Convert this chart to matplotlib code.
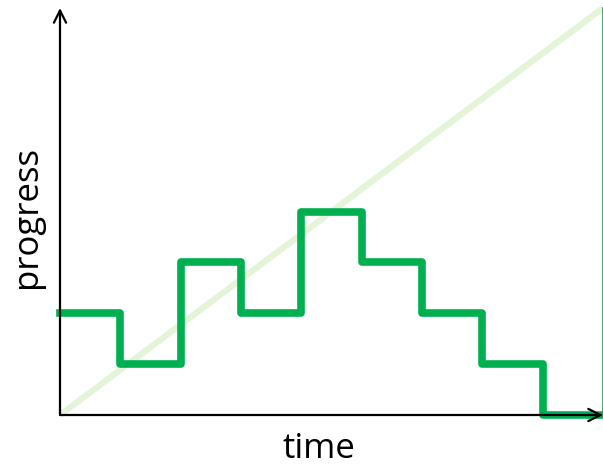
import numpy as np
import matplotlib.pyplot as plt

# step series: level held over each time slot
steps_x = [0, 1, 2, 3, 4, 5, 6, 7, 8, 9]
steps_y = [2, 1, 3, 2, 4, 3, 2, 1, 0]
# ideal progress line
ideal_x = [0, 9]
ideal_y = [0, 8]

plt.rcParams["font.family"] = ["Open Sans", "DejaVu Sans"]

fig = plt.figure(figsize=(6.03, 4.67), dpi=100)
ax = fig.add_axes([60 / 603, 52 / 467, 543 / 603, 407 / 467])
ax.set_xlim(0, 9)
ax.set_ylim(0, 8)
ax.axis("off")

ax.plot(ideal_x, ideal_y, color="#e3f4d9", linewidth=4.5, solid_capstyle="butt", zorder=1, clip_on=False)
ax.plot(steps_x, steps_y + [steps_y[-1]], drawstyle="steps-post", color="#00b050",
        linewidth=5.5, solid_joinstyle="round", zorder=2, clip_on=False)
ax.plot([9, 9], [0, 8], color="#00b050", linewidth=1.2, zorder=2, clip_on=False)

# axes with arrowheads
arrow = dict(arrowstyle="->", lw=1.6, color="black", mutation_scale=22, shrinkA=0, shrinkB=0)
ax.annotate("", xy=(0, 1), xytext=(0, 0), xycoords="axes fraction", arrowprops=arrow, zorder=3)
ax.annotate("", xy=(1, 0), xytext=(0, 0), xycoords="axes fraction", arrowprops=arrow, zorder=3)

fig.text(319 / 603, 1 - 449 / 467, "time", ha="center", va="center", fontsize=25, color="black")
fig.text(27 / 603, 1 - 217 / 467, "progress", ha="center", va="center", rotation=90,
         fontsize=25, color="black")

fig.savefig("out.png", dpi=100, facecolor="white")
